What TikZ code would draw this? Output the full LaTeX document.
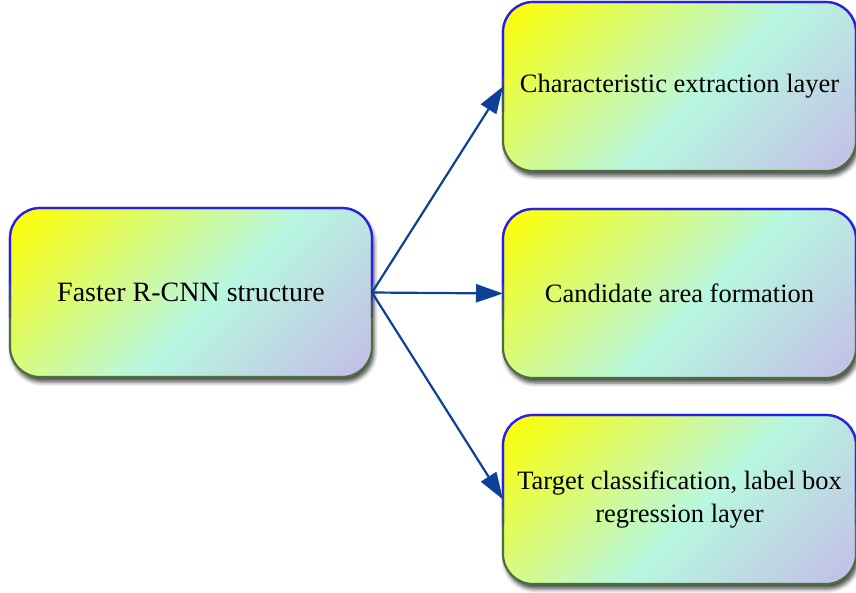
\documentclass[tikz,border=0pt]{standalone}
\usepackage{fontspec}
\setmainfont{Liberation Serif}
\usetikzlibrary{arrows.meta,shadows.blur,calc}
\definecolor{cyel}{RGB}{255,255,0}
\definecolor{cmint}{RGB}{184,247,224}
\definecolor{clav}{RGB}{196,188,232}
\definecolor{bblue}{RGB}{40,30,240}
\definecolor{bgreen}{RGB}{75,110,60}
\definecolor{arrblue}{RGB}{13,65,150}
\pgfdeclarehorizontalshading{boxgrad}{100bp}{color(0bp)=(cyel); color(27bp)=(cyel); color(52.5bp)=(cmint); color(73bp)=(clav); color(100bp)=(clav)}
\tikzset{
  fbox/.style={rectangle, rounded corners=30pt, draw=bgreen, line width=2.2pt,
    outer sep=0pt, minimum height=169pt, align=center, text=black,
    font=\fontsize{26.5}{32.5}\selectfont,
    blur shadow={shadow xshift=2pt, shadow yshift=-5pt, shadow blur radius=4pt, shadow opacity=70},
    path picture={\shade[shading=boxgrad, shading angle=-45]
      ($(path picture bounding box.center)+(-200pt,-200pt)$) rectangle
      ($(path picture bounding box.center)+(200pt,200pt)$);}},
  arr/.style={draw=arrblue, line width=2.2pt, -{Triangle[length=27pt,width=18pt]}},
  bord/.style={rounded corners=30pt, line width=2.2pt}
}
\begin{document}
\begin{tikzpicture}[x=1pt,y=-1pt]
\useasboundingbox (0,0) rectangle (856,592);
\node[fbox, minimum width=362pt, font=\fontsize{28}{33}\selectfont] (src) at (191,292.5) {Faster R-CNN structure};
\node[fbox, minimum width=353pt] (a) at (679.5,86.5) {Characteristic extraction layer};
\node[fbox, minimum width=353pt] (b) at (679.5,293.5) {Candidate area formation};
\node[fbox, minimum width=353pt] (c) at (679.5,499.5) {Target classification, label box\\regression layer};
\foreach \n in {src,a,b,c}{
  \begin{scope}
    \clip ($(\n.north west)+(-5pt,5pt)$) rectangle ($($(\n.north east)!0.45!(\n.south east)$)+(5pt,0pt)$);
    \draw[bord, draw=bblue] (\n.north west) rectangle (\n.south east);
  \end{scope}
  \begin{scope}
    \clip ($($(\n.north west)!0.45!(\n.south west)$)+(-5pt,0pt)$) rectangle ($($(\n.north east)!0.55!(\n.south east)$)+(5pt,0pt)$);
    \draw[bord, draw=bblue!65!bgreen] (\n.north west) rectangle (\n.south east);
  \end{scope}
  \begin{scope}
    \clip ($($(\n.north west)!0.55!(\n.south west)$)+(-5pt,0pt)$) rectangle ($($(\n.north east)!0.65!(\n.south east)$)+(5pt,0pt)$);
    \draw[bord, draw=bblue!30!bgreen] (\n.north west) rectangle (\n.south east);
  \end{scope}
}
\draw[arr] (src.east) -- (a.west);
\draw[arr] (src.east) -- (b.west);
\draw[arr] (src.east) -- (c.west);
\end{tikzpicture}
\end{document}
